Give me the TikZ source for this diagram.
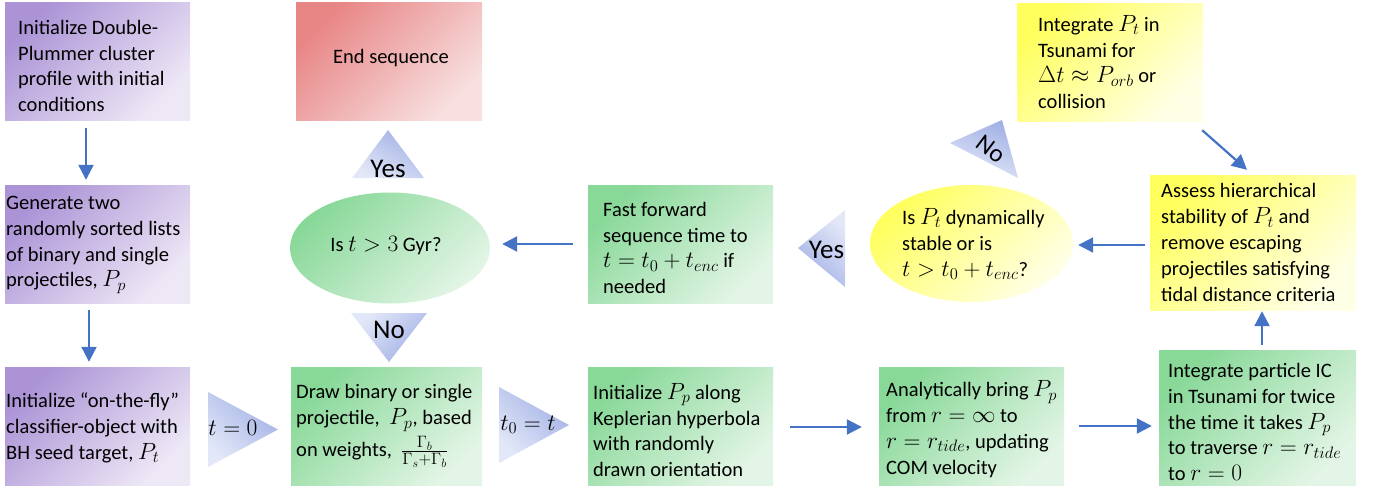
\RequirePackage{fix-cm}
\documentclass[tikz,border=0pt]{standalone}
\usepackage{fontspec}
\setmainfont{Carlito}
\DeclareMathSizes{20.5}{23.5}{16.5}{12}
\usetikzlibrary{arrows.meta,shapes.geometric}
\definecolor{arrowblue}{HTML}{4472C4}
\definecolor{purpD}{HTML}{AB93D6}
\definecolor{purpL}{HTML}{EEE8F6}
\definecolor{greenD}{HTML}{88D898}
\definecolor{greenL}{HTML}{E3F5E6}
\definecolor{redD}{HTML}{E88585}
\definecolor{redL}{HTML}{F8E0E0}
\definecolor{yelD}{HTML}{FFFF5E}
\definecolor{yelL}{HTML}{FFFFE6}
\definecolor{triD}{HTML}{A2B1E5}
\definecolor{triL}{HTML}{E3E8F8}
\tikzset{
  arr/.style={draw=arrowblue, line width=2.2pt, -{Triangle[length=15pt,width=15pt]}},
  txt/.style={font=\fontsize{20.5}{25.8}\selectfont, align=left, text=black, inner sep=0pt},
  tritxt/.style={font=\fontsize{27}{30}\selectfont, text=black, inner sep=0pt},
  mathtxt/.style={font=\fontsize{20.5}{25}\selectfont, text=black, inner sep=0pt},
  boxbase/.style={rectangle, inner sep=0pt, draw=none},
  boxp/.style={boxbase, top color=purpD, bottom color=purpL, shading angle=45},
  boxg/.style={boxbase, top color=greenD, bottom color=greenL, shading angle=45},
  boxr/.style={boxbase, top color=redD, bottom color=redL, shading angle=45},
  boxy/.style={boxbase, top color=yelD, bottom color=yelL, shading angle=45},
}
\begin{document}
\begin{tikzpicture}[x=1pt,y=-1pt]
\useasboundingbox (0,0) rectangle (1373,490);

% ---------- boxes ----------
\node[boxp, minimum width=185pt, minimum height=118pt] (b1) at (97.5,61) {};
\node[boxp, minimum width=185pt, minimum height=118pt] (b2) at (97.5,244) {};
\node[boxp, minimum width=185pt, minimum height=118pt] (b3) at (97.5,426) {};
\node[boxr, minimum width=186pt, minimum height=118pt] (endb) at (389,61) {};
\node[boxg, ellipse, minimum width=200pt, minimum height=111pt] (e1) at (390,248) {};
\node[boxg, minimum width=191pt, minimum height=118pt] (drawb) at (386.5,426) {};
\node[boxg, minimum width=185pt, minimum height=118pt] (ff) at (680.5,244) {};
\node[boxg, minimum width=185pt, minimum height=118pt] (ipp) at (680.5,426) {};
\node[boxg, minimum width=185pt, minimum height=118pt] (anb) at (971.5,426) {};
\node[boxg, minimum width=197pt, minimum height=135pt] (ipart) at (1257.5,417.5) {};
\node[boxy, minimum width=206pt, minimum height=135pt] (assess) at (1253,242.5) {};
\node[boxy, minimum width=186pt, minimum height=118pt] (ipt) at (1110,62) {};
\node[boxy, ellipse, minimum width=203pt, minimum height=117pt] (e2) at (971.5,243.5) {};

% ---------- texts ----------
\node[txt, anchor=west] (b1t) at (18,66) {Initialize Double-\\Plummer cluster\\profile with initial\\conditions};
\node[txt, anchor=west] (b2t) at (6,245) {Generate two\\randomly sorted lists\\of binary and single\\projectiles, $P_p$};
\node[txt, anchor=west] (b3t) at (6,428) {Initialize “on-the-fly”\\classifier-object with\\BH seed target, $P_t$};
\node[txt] (endt) at (391,58) {End sequence};
\node[txt] (e1t) at (386,246) {Is $t > 3$ Gyr?};
\node[txt, anchor=west] (drawt) at (296,426) {Draw binary or single\\projectile,\ \ $P_p$, based\\[4pt]on weights,\ \ $\frac{\Gamma_b}{\Gamma_s+\Gamma_b}$};
\node[txt, anchor=west] (fft) at (603,248) {Fast forward\\sequence time to\\$t = t_0 + t_{enc}$ if\\needed};
\node[txt, anchor=west] (ippt) at (593,430) {Initialize $P_p$ along\\Keplerian hyperbola\\with randomly\\drawn orientation};
\node[txt, anchor=west] (anbt) at (886,429) {Analytically bring $P_p$\\from $r=\infty$ to\\$r = r_{tide}$, updating\\COM velocity};
\node[txt, anchor=west] (ipartt) at (1168,422) {Integrate particle IC\\in Tsunami for twice\\the time it takes $P_p$\\to traverse $r = r_{tide}$\\to $r = 0$};
\node[txt, anchor=west] (assesst) at (1161,242.5) {Assess hierarchical\\stability of $P_t$ and\\remove escaping\\projectiles satisfying\\tidal distance criteria};
\node[txt, anchor=west] (iptt) at (1038,62) {Integrate $P_t$ in\\Tsunami for\\$\Delta t \approx P_{orb}$ or\\collision};
\node[txt, anchor=west] (e2t) at (902,244) {Is $P_t$ dynamically\\stable or is\\$t > t_0 + t_{enc}$?};

% ---------- triangles ----------
\shade[top color=triD, bottom color=triL, shading angle=-45] (208,392) -- (278,429.5) -- (208,467) -- cycle;
\node[mathtxt] (t0lab) at (233,428) {$t=0$};
\shade[top color=triD, bottom color=triL, shading angle=-45] (499,387) -- (569,425) -- (499,463) -- cycle;
\node[mathtxt] (t0tlab) at (528,425) {$t_0=t$};
\shade[top color=triD, bottom color=triL, shading angle=-30] (388,130) -- (424,178) -- (352,178) -- cycle;
\node[tritxt, anchor=base] (yes1) at (388,177) {Yes};
\shade[top color=triL, bottom color=triD, shading angle=45] (351,313) -- (427,313) -- (389,362) -- cycle;
\node[tritxt, anchor=base] (no1) at (389,338) {No};
\shade[top color=triL, bottom color=triD, shading angle=-45] (798,248) -- (845,210) -- (845,287) -- cycle;
\node[tritxt, anchor=base] (yes2) at (826.5,258) {Yes};
\shade[top color=triD, bottom color=triL, shading angle=-20] (1002,120) -- (1018,178) -- (950,143) -- cycle;
\node[tritxt, rotate=-37, font=\fontsize{25}{28}\selectfont] (no2) at (991,149) {No};

% ---------- connectors ----------
\draw[arr] ([xshift=-11.5pt,yshift=-8pt]b1.south) -- ([xshift=-11.5pt,yshift=5pt]b2.north);
\draw[arr] ([xshift=-8.5pt,yshift=-7pt]b2.south) -- ([xshift=-8.5pt,yshift=5pt]b3.north);
\draw[arr] ([xshift=-15pt]ff.west) -- ([xshift=12pt,yshift=4pt]e1.east);
\draw[arr] ([xshift=17pt,yshift=-1pt]ipp.east) -- ([xshift=-17pt,yshift=-1pt]anb.west);
\draw[arr] ([xshift=15pt]anb.east) -- ([xshift=-7pt,yshift=-8.5pt]ipart.west);
\draw[arr] ([xshift=4.5pt,yshift=5pt]ipart.north) -- ([xshift=9pt,yshift=-1pt]assess.south);
\draw[arr] ([xshift=-5pt,yshift=-2.5pt]assess.west) -- ([xshift=5pt,yshift=-1.5pt]e2.east);
\draw[arr] ([xshift=-1pt,yshift=-9pt]ipt.south east) -- ([xshift=-6pt,yshift=5pt]assess.north);
\end{tikzpicture}
\end{document}
